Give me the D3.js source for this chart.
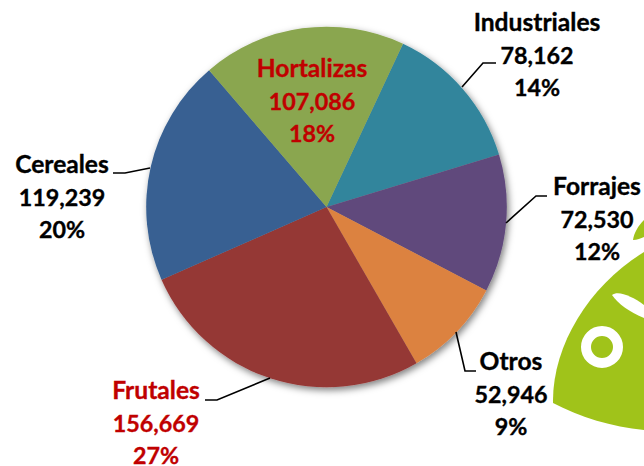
<!DOCTYPE html>
<html><head><meta charset="utf-8">
<script src="https://cdn.jsdelivr.net/npm/d3@7/dist/d3.min.js"></script>
<style>html,body{margin:0;padding:0;background:#fff}svg{display:block}text{font-family:Lato,sans-serif;font-weight:700;stroke-width:.35px;paint-order:stroke}</style>
</head><body><svg id="c" width="644" height="466"></svg>
<script>
const categories=["Industriales","Forrajes","Otros","Frutales","Cereales","Hortalizas"];
const values=[78162,72530,52946,156669,119239,107086];
const valueLabels=["78,162","72,530","52,946","156,669","119,239","107,086"];
const percentLabels=["14%","12%","9%","27%","20%","18%"];
const colors=["#31859c","#604a7b","#dc8240","#953735","#376092","#8aa64f"];
const labelColors=["#000","#000","#000","#c00000","#000","#c00000"];
const labelPos=[[537,31],[597,195],[511,370],[156,399],[62,173],[312,77]];
const svg=d3.select("#c");
const defs=svg.append("defs");
const f=defs.append("filter").attr("id","sh").attr("x","-10%").attr("y","-10%").attr("width","120%").attr("height","120%");
f.append("feDropShadow").attr("dx",2).attr("dy",3).attr("stdDeviation",3.5).attr("flood-color","#000").attr("flood-opacity",0.5);
// logo
const logo=svg.append("g");
logo.append("path").attr("fill","#a0c31a").attr("d","M553,403 C552,345 590,285 644,252 L644,430 C612,427 580,417 553,403 Z");
logo.append("path").attr("fill","#a0c31a").attr("d","M644,220 C638,226 634,233 633,240 C637,240 641,238 644,237 Z");
logo.append("circle").attr("cx",602).attr("cy",347).attr("r",16).attr("fill","none").attr("stroke","#fff").attr("stroke-width",10);
logo.append("path").attr("fill","#fff").attr("d","M612,295 C618,290 632,296 644,305 L644,318 C630,312 618,304 612,295 Z");
const cx=326.5,cy=207,r=180.3;
const start=25.1*Math.PI/180;
const pie=d3.pie().sort(null).startAngle(start).endAngle(start+2*Math.PI)(values);
const arc=d3.arc().innerRadius(0).outerRadius(r);
const g=svg.append("g").attr("transform",`translate(${cx},${cy})`).attr("filter","url(#sh)");
g.selectAll("path").data(pie).join("path").attr("d",arc).attr("fill",(d,i)=>colors[i]);
// leaders
const lead=[[[462,87],[483,63],[496,63]],[[506,223],[536,196],[547,196]],[[456,332],[465,371],[476,371]],[[270,378],[217,400],[205,400]],[[150,168],[125,173],[113,173]]];
const line=d3.line();
svg.selectAll("path.lead").data(lead).join("path").attr("class","lead").attr("d",line).attr("fill","none").attr("stroke","#000").attr("stroke-width",1.6);
const t=svg.append("g");
categories.forEach((c,i)=>{
  const [x,y]=labelPos[i];
  const tx=t.append("text").attr("text-anchor","middle").attr("fill",labelColors[i]).attr("stroke",labelColors[i]);
  [c,valueLabels[i],percentLabels[i]].forEach((s,j)=>tx.append("tspan").attr("x",x).attr("y",y+j*32.5).style("font-size",j===0?"24.6px":"23.3px").text(s));
});
</script></body></html>
